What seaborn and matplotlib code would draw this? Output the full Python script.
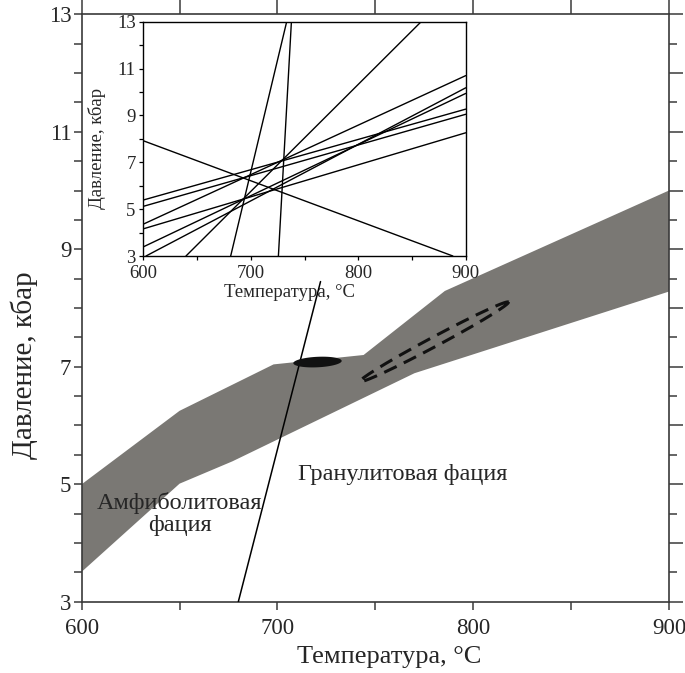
import numpy as np
import pandas as pd
import matplotlib
matplotlib.use('Agg')
import matplotlib.pyplot as plt
import seaborn as sns
from matplotlib.ticker import MultipleLocator, FixedLocator

sns.set_theme(style='white')
plt.rcParams['font.family'] = ['Liberation Serif', 'DejaVu Serif']

# ---------------------------------------------------------------------------
# Data
# ---------------------------------------------------------------------------
# grey P-T band (upper and lower boundary)
upper_T = [600, 650, 698, 744, 785.5, 900]
upper_P = [5.0, 6.25, 7.04, 7.20, 8.29, 10.0]
lower_T = [600, 650, 677, 770, 900]
lower_P = [3.51, 5.01, 5.39, 6.89, 8.28]

# facies boundary line
boundary_T = [680, 722]
boundary_P = [3.0, 8.45]

# solid black estimate (ends of the ellipse)
spot_T = [708.1, 732.8]
spot_P = [7.06, 7.10]

# dashed estimate field (ends of the ellipse)
field_T = [742.2, 818.0]
field_P = [6.75, 8.10]

# inset: reaction lines, start / end points
inset_T0 = [600, 681.3, 725.7, 639.7, 600, 600, 600, 600, 600, 602.5]
inset_P0 = [7.92, 3.0, 3.0, 3.0, 5.39, 5.12, 4.36, 4.16, 3.39, 3.0]
inset_T1 = [888, 733.4, 737.8, 858.5, 900, 900, 900, 900, 900, 900]
inset_P1 = [3.0, 13.0, 13.0, 13.0, 9.27, 9.05, 10.70, 8.26, 9.94, 10.18]

x_ticks = [600, 700, 800, 900]
y_ticks = [3, 5, 7, 9, 11, 13]

band_color = '#7a7874'
spine_color = '#3a3a3a'

# ---------------------------------------------------------------------------
fig = plt.figure(figsize=(6.85, 6.73), dpi=100)
ax = fig.add_axes([0.1193, 0.1059, 0.8573, 0.8729])
ax.set_xlim(600, 900)
ax.set_ylim(3, 13)

# band polygon
band_T = upper_T + lower_T[::-1]
band_P = upper_P + lower_P[::-1]
ax.fill(band_T, band_P, color=band_color, lw=0, zorder=1)

# boundary line
sns.lineplot(x=boundary_T, y=boundary_P, ax=ax, color='black', lw=1.1,
             sort=False, estimator=None, zorder=3)


def ellipse_from_ends(ax, T, P, width_px, n=200):
    # thin ellipse between two end points, width given in pixels
    pts = ax.transData.transform(np.column_stack([T, P]))
    c = pts.mean(axis=0)
    d = pts[1] - pts[0]
    a = np.hypot(*d) / 2
    u = d / (2 * a)
    v = np.array([-u[1], u[0]])
    t = np.linspace(0, 2 * np.pi, n)
    xy = c + np.outer(a * np.cos(t), u) + np.outer(width_px / 2 * np.sin(t), v)
    return ax.transData.inverted().transform(xy)


spot = ellipse_from_ends(ax, spot_T, spot_P, 10.5)
ax.fill(spot[:, 0], spot[:, 1], color='#111111', lw=0, zorder=4)

field = ellipse_from_ends(ax, field_T, field_P, 9.5)
ax.plot(field[:, 0], field[:, 1], color='#111111', lw=2.2,
        linestyle=(0, (4.5, 2.6)), zorder=4)

# labels inside the plot
ax.text(650, 4.49, 'Амфиболитовая\nфация', ha='center', va='center',
        fontsize=17.5, linespacing=1.1, zorder=5)
ax.text(764, 5.16, 'Гранулитовая фация', ha='center', va='center',
        fontsize=17.5, zorder=5)

# axes styling
ax.xaxis.set_major_locator(FixedLocator(x_ticks))
ax.xaxis.set_minor_locator(MultipleLocator(50))
ax.yaxis.set_major_locator(FixedLocator(y_ticks))
ax.yaxis.set_minor_locator(MultipleLocator(0.5))
ax.tick_params(axis='x', which='both', direction='out', length=6, width=1.1,
               color=spine_color, labelsize=16.5, pad=6, bottom=True, top=False)
ax.tick_params(axis='y', which='both', direction='out', length=5.5, width=1.1,
               color=spine_color, labelsize=16.5, pad=2, left=True, right=False)
for s in ax.spines.values():
    s.set_color(spine_color)
    s.set_linewidth(1.2)
ax.grid(False)

sec_top = ax.secondary_xaxis('top')
sec_top.xaxis.set_major_locator(MultipleLocator(50))
sec_top.tick_params(direction='out', length=11, width=1.1, color=spine_color,
                    labeltop=False)
sec_top.spines['top'].set_visible(False)

sec_right = ax.secondary_yaxis('right')
sec_right.yaxis.set_major_locator(MultipleLocator(1))
sec_right.yaxis.set_minor_locator(MultipleLocator(0.5))
sec_right.tick_params(which='major', direction='out', length=10, width=1.1,
                      color=spine_color, labelright=False)
sec_right.tick_params(which='minor', direction='out', length=6, width=1.1,
                      color=spine_color)
sec_right.spines['right'].set_visible(False)

ax.set_xlabel('Температура, °C', fontsize=19)
ax.set_ylabel('Давление, кбар', fontsize=21)
ax.xaxis.set_label_coords(0.523, -0.075)
ax.yaxis.set_label_coords(-0.075, 0.403)

# ---------------------------------------------------------------------------
# inset with the reaction lines
# ---------------------------------------------------------------------------
ins = fig.add_axes([0.2092, 0.6196, 0.4707, 0.3481])
ins.set_facecolor('white')
rows = []
for i in range(len(inset_T0)):
    rows.append({'line': i, 'T': inset_T0[i], 'P': inset_P0[i]})
    rows.append({'line': i, 'T': inset_T1[i], 'P': inset_P1[i]})
lines_df = pd.DataFrame(rows)
sns.lineplot(data=lines_df, x='T', y='P', units='line', estimator=None,
             sort=False, color='black', lw=1.0, ax=ins)
ins.set_xlim(600, 900)
ins.set_ylim(3, 13)
ins.xaxis.set_major_locator(FixedLocator(x_ticks))
ins.xaxis.set_minor_locator(MultipleLocator(50))
ins.yaxis.set_major_locator(FixedLocator(y_ticks))
ins.yaxis.set_minor_locator(MultipleLocator(1))
ins.tick_params(which='both', direction='out', length=3, width=0.9,
                color='black', labelsize=13.5, bottom=True, left=True)
ins.tick_params(axis='x', pad=3.5)
ins.tick_params(axis='y', pad=2.5)
for s in ins.spines.values():
    s.set_color('black')
    s.set_linewidth(1.0)
ins.grid(False)
ins.set_xlabel('Температура, °C', fontsize=13.5)
ins.set_ylabel('Давление, кбар', fontsize=13.5)
ins.xaxis.set_label_coords(0.452, -0.12)
ins.yaxis.set_label_coords(-0.115, 0.46)

fig.savefig('out.png', dpi=100)
